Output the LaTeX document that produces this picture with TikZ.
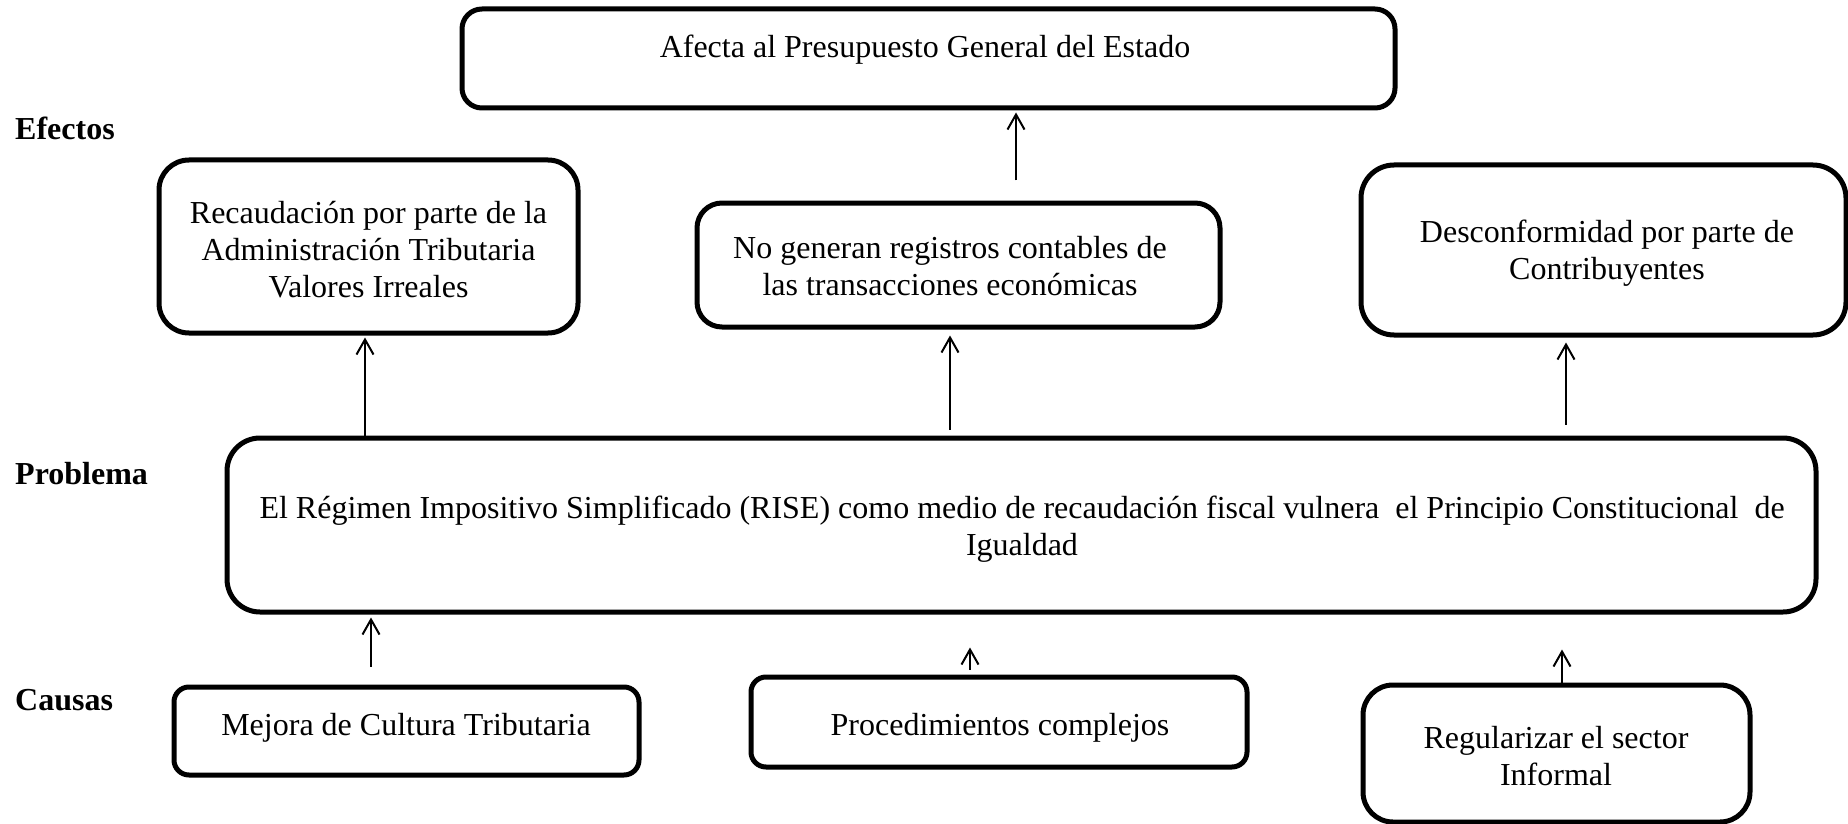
\documentclass[tikz,border=0pt]{standalone}
\usepackage{fontspec}
\setmainfont{Liberation Serif}
\usetikzlibrary{arrows.meta}
\begin{document}
\begin{tikzpicture}[x=1pt,y=1pt,
  box/.style={draw=black,line width=5pt,rectangle,inner sep=0pt},
  txt/.style={anchor=base,align=center,inner sep=0pt,font=\fontsize{32}{37}\selectfont},
  side/.style={anchor=base west,inner sep=0pt,font=\fontsize{32}{37}\selectfont\bfseries},
  arr/.style={line width=2pt,-{Straight Barb[length=15pt,width=17pt]}}]
\useasboundingbox (0,0) rectangle (1848,-824);
% boxes
\node[box,rounded corners=20pt,minimum width=933pt,minimum height=99pt] (top) at (928.5,-58.5) {};
\node[box,rounded corners=30pt,minimum width=419pt,minimum height=173pt] (rec) at (368.5,-246.5) {};
\node[box,rounded corners=25pt,minimum width=523pt,minimum height=124pt] (nog) at (958.5,-265) {};
\node[box,rounded corners=33pt,minimum width=485pt,minimum height=170pt] (des) at (1603.5,-250) {};
\node[box,rounded corners=33pt,minimum width=1589pt,minimum height=174pt] (prob) at (1021.5,-525) {};
\node[box,rounded corners=15pt,minimum width=465pt,minimum height=88pt] (mej) at (406.5,-731) {};
\node[box,rounded corners=15pt,minimum width=496pt,minimum height=90pt] (proc) at (999,-722) {};
\node[box,rounded corners=30pt,minimum width=387pt,minimum height=137pt] (reg) at (1556.5,-753.5) {};
% texts (anchor = baseline of the last line)
\node[txt] (ttop) at (925,-58) {Afecta al Presupuesto General del Estado};
\node[txt] (trec) at (368.5,-297) {Recaudación por parte de la\\Administración Tributaria\\Valores Irreales};
\node[txt] (tnog) at (950,-295) {No generan registros contables de\\las transacciones económicas};
\node[txt] (tdes) at (1607,-279) {Desconformidad por parte de\\Contribuyentes};
\node[txt] (tprob) at (1022,-555) {El Régimen Impositivo Simplificado (RISE) como medio de recaudación fiscal vulnera\ \ el Principio Constitucional\ \ de\\Igualdad};
\node[txt] (tmej) at (406,-735) {Mejora de Cultura Tributaria};
\node[txt] (tproc) at (1000,-735) {Procedimientos complejos};
\node[txt] (treg) at (1556,-785) {Regularizar el sector\\Informal};
% side labels
\node[side] (lef) at (15,-140) {Efectos};
\node[side] (lpr) at (15,-484) {Problema};
\node[side] (lca) at (15,-710) {Causas};
% arrow columns
\coordinate (x1) at (365,0);
\coordinate (x2) at (950,0);
\coordinate (x3) at (1566,0);
\coordinate (x4) at (1016,0);
\coordinate (x5) at (371,0);
\coordinate (x6) at (970,0);
\coordinate (x7) at (1562,0);
% arrows
\draw[arr,shorten >=2pt] (prob.north -| x1) -- (rec.south -| x1);
\draw[arr,shorten <=6pt,shorten >=6pt] (prob.north -| x2) -- (nog.south -| x2);
\draw[arr,shorten <=11pt,shorten >=5pt] (prob.north -| x3) -- (des.south -| x3);
\draw[arr,shorten <=20pt,shorten >=2pt] (nog.north -| x4) -- (top.south -| x4);
\draw[arr,shorten <=18pt,shorten >=3pt] (mej.north -| x5) -- (prob.south -| x5);
\draw[arr,shorten <=5pt,shorten >=33pt] (proc.north -| x6) -- (prob.south -| x6);
\draw[arr,shorten >=35pt] (reg.north -| x7) -- (prob.south -| x7);
\end{tikzpicture}
\end{document}
